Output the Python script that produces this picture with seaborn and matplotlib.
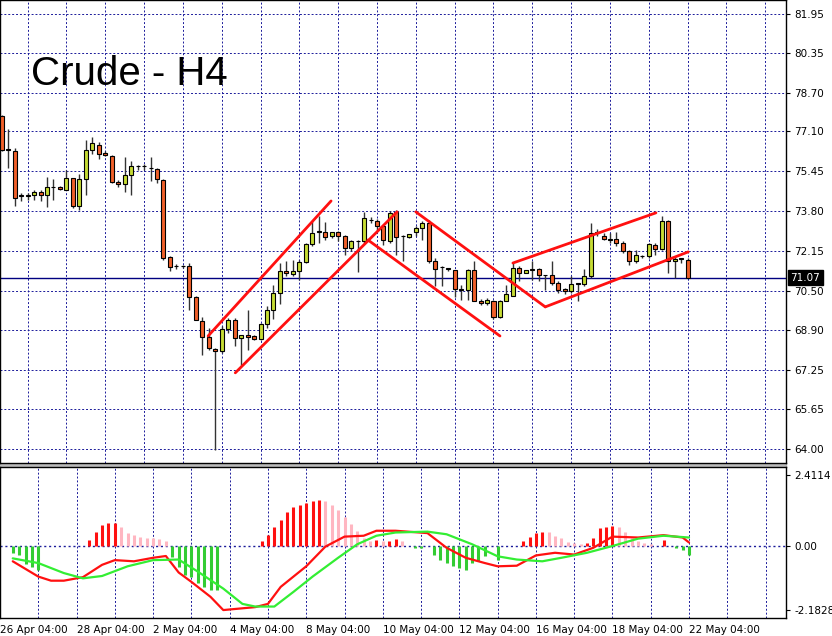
import numpy as np
import pandas as pd
import seaborn as sns
import matplotlib.pyplot as plt

# candle data (4H bars)
opens = [77.72, 76.38, 76.30, 74.46, 74.46, 74.46, 74.58, 74.46, 74.80, 74.80,
         74.69, 75.18, 74.01, 75.15, 76.34, 76.52, 76.21, 76.10, 75.01, 74.93,
         75.31, 75.66, 75.66, 75.59, 75.55, 75.11, 71.92, 71.53, 71.53, 71.53,
         70.27, 69.29, 68.62, 68.13, 68.03, 68.95, 69.33, 68.57, 68.71, 68.64,
         68.55, 69.15, 69.74, 70.43, 71.35, 71.22, 71.35, 71.71, 72.47, 72.95,
         72.95, 72.77, 72.93, 72.80, 72.29, 72.56, 72.56, 73.43, 73.39, 73.18,
         72.56, 73.77, 72.77, 72.74, 72.93, 73.11, 73.32, 71.77, 71.49, 71.42,
         71.37, 70.61, 70.54, 71.37, 70.12, 70.02, 70.12, 69.43, 70.12, 70.32,
         71.46, 71.26, 71.39, 71.42, 71.16, 71.16, 70.84, 70.61, 70.50, 70.82,
         70.82, 71.15, 72.91, 72.80, 72.63, 72.66, 72.49, 72.15, 71.74, 71.94,
         71.94, 72.43, 72.25, 73.41, 71.74, 71.83, 71.81]
highs = [77.79, 77.20, 76.40, 74.56, 74.56, 74.69, 74.69, 75.22, 75.13, 74.86,
         75.49, 75.18, 75.35, 76.73, 76.87, 76.65, 76.28, 76.14, 75.11, 76.04,
         75.86, 75.70, 75.75, 76.04, 75.59, 75.13, 71.94, 71.63, 71.60, 71.67,
         70.29, 69.44, 68.99, 68.16, 69.06, 69.40, 69.40, 68.71, 69.74, 68.71,
         69.19, 69.88, 70.77, 71.67, 71.77, 71.81, 71.81, 72.49, 73.39, 73.59,
         73.37, 72.97, 73.00, 72.84, 72.63, 72.63, 73.76, 73.57, 73.50, 73.25,
         73.80, 73.84, 72.84, 72.87, 73.20, 73.39, 73.46, 71.88, 71.56, 71.46,
         71.39, 70.78, 71.42, 71.77, 70.18, 70.23, 70.16, 70.16, 70.78, 71.67,
         71.53, 71.39, 71.74, 71.46, 71.19, 71.74, 70.91, 70.64, 71.12, 70.84,
         71.42, 73.32, 73.07, 72.91, 72.91, 72.93, 72.56, 72.22, 72.19, 72.01,
         72.49, 72.49, 73.59, 73.46, 71.91, 71.88, 71.88]
lows = [76.30, 75.60, 74.01, 74.21, 74.28, 74.28, 74.21, 73.98, 74.28, 74.67,
        74.67, 73.94, 73.87, 74.46, 76.18, 75.97, 76.07, 74.97, 74.80, 74.58,
        74.46, 75.49, 75.52, 75.04, 74.97, 71.78, 71.33, 71.44, 71.46, 69.74,
        69.31, 67.89, 68.09, 63.97, 67.96, 68.78, 68.26, 67.48, 68.09, 68.48,
        68.51, 68.99, 69.37, 69.99, 71.12, 71.12, 70.98, 71.67, 72.36, 72.49,
        72.60, 72.70, 72.56, 72.01, 72.15, 71.29, 72.49, 73.32, 73.04, 72.40,
        72.49, 72.01, 71.75, 72.70, 72.80, 72.63, 71.67, 70.71, 70.71, 71.33,
        70.27, 70.16, 70.16, 70.09, 69.95, 69.95, 69.36, 69.40, 70.09, 70.32,
        70.91, 71.26, 70.98, 70.91, 70.54, 70.78, 70.43, 70.40, 70.43, 70.09,
        70.73, 71.05, 72.77, 72.63, 72.49, 72.38, 72.08, 71.60, 71.67, 71.88,
        71.88, 72.01, 72.22, 71.26, 71.05, 71.67, 71.05]
closes = [76.34, 76.34, 74.35, 74.45, 74.45, 74.58, 74.46, 74.80, 74.79, 74.72,
          75.18, 74.01, 75.15, 76.32, 76.62, 76.18, 76.11, 75.01, 74.93, 75.31,
          75.68, 75.66, 75.66, 75.58, 75.13, 71.88, 71.51, 71.53, 71.53, 70.27,
          69.31, 68.62, 68.16, 68.03, 68.95, 69.33, 68.57, 68.71, 68.62, 68.55,
          69.15, 69.74, 70.43, 71.35, 71.26, 71.35, 71.71, 72.47, 72.91, 72.95,
          72.73, 72.93, 72.80, 72.29, 72.56, 72.56, 73.53, 73.43, 73.18, 72.60,
          73.73, 72.74, 72.77, 72.87, 73.11, 73.32, 71.74, 71.42, 71.49, 71.42,
          70.61, 70.54, 71.37, 70.12, 70.02, 70.16, 69.43, 70.12, 70.39, 71.46,
          71.26, 71.39, 71.39, 71.19, 71.16, 70.84, 70.57, 70.50, 70.82, 70.82,
          71.15, 72.91, 72.91, 72.66, 72.63, 72.49, 72.15, 71.74, 72.01, 71.94,
          72.45, 72.25, 73.41, 71.74, 71.85, 71.83, 71.07]

# oscillator histogram (bar index -> value)
hist_points = {0: -0.23, 1: -0.30, 2: -0.60, 3: -0.73, 4: -0.80,
               12: 0.21, 13: 0.49, 14: 0.72, 15: 0.77, 16: 0.77,
               17: 0.64, 18: 0.44, 19: 0.37, 20: 0.32, 21: 0.29, 22: 0.27, 23: 0.25, 24: 0.17,
               25: -0.36, 26: -0.73, 27: -0.99, 28: -1.05, 29: -1.27, 30: -1.41, 31: -1.48,
               32: -1.48,
               39: 0.17, 40: 0.37, 41: 0.64, 42: 0.87, 43: 1.16, 44: 1.33, 45: 1.39, 46: 1.48,
               47: 1.53, 48: 1.56, 49: 1.53, 50: 1.39, 51: 1.21, 52: 0.98, 53: 0.75, 54: 0.52,
               55: 0.29, 56: 0.17, 57: 0.20, 58: 0.17, 59: 0.17, 60: 0.25, 61: 0.17,
               63: -0.06, 64: -0.06,
               66: -0.29, 67: -0.46, 68: -0.58, 69: -0.69, 70: -0.75, 71: -0.81, 72: -0.58,
               73: -0.52, 74: -0.35, 76: -0.46,
               80: 0.17, 81: 0.32, 82: 0.46, 83: 0.49, 84: 0.48, 85: 0.35, 86: 0.26, 87: 0.14,
               88: 0.09, 89: 0.06,
               90: 0.12, 91: 0.29, 92: 0.60, 93: 0.64, 94: 0.67, 95: 0.64, 96: 0.49, 97: 0.26,
               98: 0.17, 99: 0.12, 100: 0.06, 102: 0.20,
               104: -0.06, 105: -0.12, 106: -0.29}

main_bars = [0, 4, 6, 8, 11, 14, 16, 19, 22, 24, 26, 28, 31, 33, 35, 38, 40, 42, 46, 49,
             52, 55, 57, 60, 65, 68, 71, 74, 76, 79, 82, 85, 88, 91, 94, 98, 102, 105, 106]
main_vals = [-0.52, -1.04, -1.18, -1.18, -1.06, -0.64, -0.48, -0.52, -0.40, -0.34,
             -0.90, -1.22, -1.73, -2.18, -2.14, -2.08, -1.97, -1.39, -0.69, -0.02,
             0.32, 0.35, 0.52, 0.52, 0.44, -0.06, -0.40, -0.58, -0.69, -0.67,
             -0.32, -0.23, -0.29, -0.06, 0.32, 0.29, 0.37, 0.29, 0.12]
sig_bars = [0, 4, 8, 11, 14, 18, 22, 26, 29, 33, 36, 38, 41, 44, 47, 51, 54, 57, 60,
            65, 68, 72, 76, 79, 83, 86, 90, 94, 98, 102, 106]
sig_vals = [-0.42, -0.58, -0.92, -1.10, -1.02, -0.69, -0.48, -0.46, -0.87, -1.45,
            -1.97, -2.06, -2.06, -1.56, -1.04, -0.40, 0.06, 0.35, 0.46, 0.49,
            0.40, 0.06, -0.35, -0.46, -0.52, -0.40, -0.23, 0.0, 0.25, 0.35, 0.29]

# hand drawn trend lines: (bar, price) pairs
trend_lines = [((31.9, 68.66), (50.9, 74.23)),
               ((36.1, 67.14), (61.1, 73.78)),
               ((56.6, 72.62), (77.0, 68.66)),
               ((64.0, 73.78), (84.0, 69.86)),
               ((79.0, 71.67), (101.1, 73.74)),
               ((84.0, 69.86), (106.1, 72.13))]

price_ticks = [64.00, 65.65, 67.25, 68.90, 70.50, 72.15, 73.80, 75.45, 77.10, 78.70, 80.35, 81.95]
label_bars = [-2, 10, 22, 34, 46, 58, 70, 82, 94, 106]
label_texts = ["26 Apr 04:00", "28 Apr 04:00", "2 May 04:00", "4 May 04:00", "8 May 04:00",
               "10 May 04:00", "12 May 04:00", "16 May 04:00", "18 May 04:00", "22 May 04:00"]
last_price = 71.07

sns.set_style("white")
plt.rcParams['font.family'] = ['DejaVu Sans']
plt.rcParams['text.color'] = 'black'
plt.rcParams['xtick.color'] = 'black'
plt.rcParams['ytick.color'] = 'black'

grid_kw = dict(color='#1a1a9a', lw=0.7, ls=(0, (2, 2)))
xlim = (-0.26, 121.2)
grid_x = np.arange(4, 122, 6)

fig = plt.figure(figsize=(8.32, 6.36), dpi=100)
ax = fig.add_axes([0, 173 / 636, 786 / 832, 463 / 636])
ax2 = fig.add_axes([0, 18 / 636, 786 / 832, 151 / 636])

df = pd.DataFrame({'o': opens, 'h': highs, 'l': lows, 'c': closes})
df['x'] = np.arange(len(df))
bull = df['c'] >= df['o']

for gx in grid_x:
    ax.axvline(gx, **grid_kw, zorder=0)
    ax2.axvline(gx, **grid_kw, zorder=0)
for p in price_ticks:
    ax.axhline(p, **grid_kw, zorder=0)
ax.axhline(last_price, color='#000080', lw=1, zorder=1)

ax.vlines(df['x'], df['l'], df['h'], color='#333333', lw=1, zorder=2)
body_h = (df['c'] - df['o']).abs().clip(lower=0.03)
body_b = df[['o', 'c']].min(axis=1)
ax.bar(df['x'][bull], body_h[bull], bottom=body_b[bull], width=0.62,
       color='#c6dc34', edgecolor='black', lw=0.8, zorder=3)
ax.bar(df['x'][~bull], body_h[~bull], bottom=body_b[~bull], width=0.62,
       color='#f0602a', edgecolor='black', lw=0.8, zorder=3)

for (x0, y0), (x1, y1) in trend_lines:
    ax.plot([x0, x1], [y0, y1], color='#ff1010', lw=2, zorder=4)

ax.set_xlim(*xlim)
ax.set_ylim(63.42, 82.52)
ax.yaxis.tick_right()
ax.set_yticks(price_ticks)
ax.set_yticklabels([f"{p:.2f}" for p in price_ticks], fontsize=7.5)
ax.tick_params(axis='y', length=3, pad=3)
ax.set_xticks([])
ax.text(0.04, 0.84, "Crude - H4", transform=ax.transAxes, fontsize=29,
        family='Liberation Sans', va='center', color='black')
ax.annotate(f"{last_price:.2f}", xy=(1, last_price), xycoords=('axes fraction', 'data'),
            xytext=(3, 0), textcoords='offset points', va='center', ha='left',
            fontsize=7.5, color='white',
            bbox=dict(boxstyle='square,pad=0.25', fc='black', ec='black'))

# oscillator panel
hist = np.zeros(len(df))
for k, v in hist_points.items():
    hist[k] = v
colors = []
for i, v in enumerate(hist):
    prev = hist[i - 1] if i > 0 else 0
    if v < 0:
        colors.append('#33cc33')
    elif v >= prev:
        colors.append('#ff1010')
    else:
        colors.append('#ffb6c1')
ax2.vlines(df['x'], 0, hist, colors=colors, lw=2.2, zorder=2)
ax2.axhline(0, color='#1a1a9a', lw=1, ls=(0, (1.5, 2)), zorder=1)
sns.lineplot(x=main_bars, y=main_vals, ax=ax2, color='#ff1010', lw=1.6, zorder=3)
sns.lineplot(x=sig_bars, y=sig_vals, ax=ax2, color='#33ee33', lw=1.6, zorder=3)
ax2.set_xlim(*xlim)
ax2.set_ylim(-2.45, 2.69)
ax2.yaxis.tick_right()
ax2.set_yticks([2.4114, 0.0, -2.1828])
ax2.set_yticklabels(["2.4114", "0.00", "-2.1828"], fontsize=7.5)
ax2.tick_params(axis='y', length=3, pad=3)
ax2.set_xticks(label_bars)
ax2.set_xticklabels(label_texts, fontsize=7.5, ha='left')
ax2.tick_params(axis='x', length=3, pad=2)
ax2.set_ylabel('')

for a in (ax, ax2):
    for s in a.spines.values():
        s.set_color('black')
        s.set_linewidth(1)

fig.patches.append(plt.Rectangle((0, 169 / 636), 786 / 832, 4 / 636, transform=fig.transFigure,
                                 color='#bbbbbb', zorder=-1))
fig.savefig("out.png", dpi=100)
